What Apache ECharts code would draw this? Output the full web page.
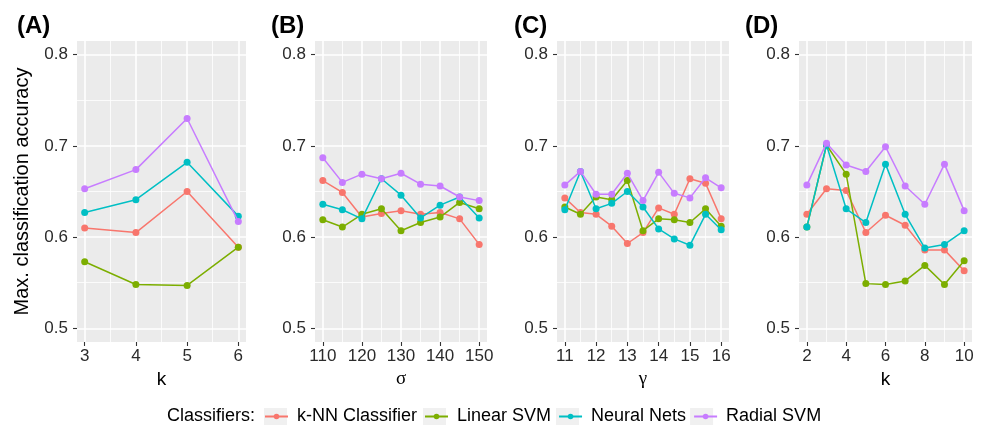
<!DOCTYPE html>
<html>
<head>
<meta charset="utf-8">
<script src="https://cdn.jsdelivr.net/npm/echarts@6/dist/echarts.min.js"></script>
<style>html,body{margin:0;padding:0;background:#fff}#c{width:981px;height:427px}</style>
</head>
<body>
<div id="c"></div>
<script>
// ---------- data ----------
const seriesNames = ['k-NN Classifier', 'Linear SVM', 'Neural Nets', 'Radial SVM'];
const panelTitles = ['(A)', '(B)', '(C)', '(D)'];
const xNames = ['k', 'σ', 'γ', 'k'];

const xA = [3, 4, 5, 6];
const knnA = [0.610, 0.605, 0.650, 0.589];
const linA = [0.573, 0.548, 0.547, 0.589];
const nnA  = [0.627, 0.641, 0.682, 0.623];
const rbfA = [0.653, 0.674, 0.730, 0.617];

const xB = [110, 115, 120, 125, 130, 135, 140, 145, 150];
const knnB = [0.662, 0.649, 0.622, 0.626, 0.629, 0.625, 0.627, 0.620, 0.592];
const linB = [0.619, 0.611, 0.625, 0.631, 0.607, 0.616, 0.622, 0.638, 0.631];
const nnB  = [0.636, 0.630, 0.620, 0.664, 0.646, 0.621, 0.635, 0.644, 0.621];
const rbfB = [0.687, 0.660, 0.669, 0.664, 0.670, 0.658, 0.656, 0.644, 0.640];

const xC = [11, 11.5, 12, 12.5, 13, 13.5, 14, 14.5, 15, 15.5, 16];
const knnC = [0.643, 0.627, 0.625, 0.612, 0.593, 0.605, 0.632, 0.625, 0.664, 0.659, 0.620];
const linC = [0.633, 0.625, 0.644, 0.641, 0.662, 0.607, 0.620, 0.619, 0.616, 0.631, 0.612];
const nnC  = [0.630, 0.672, 0.631, 0.637, 0.650, 0.633, 0.609, 0.598, 0.591, 0.625, 0.608];
const rbfC = [0.657, 0.672, 0.647, 0.647, 0.670, 0.640, 0.671, 0.648, 0.643, 0.665, 0.654];

const xD = [2, 3, 4, 5, 6, 7, 8, 9, 10];
const knnD = [0.625, 0.653, 0.651, 0.605, 0.624, 0.613, 0.586, 0.586, 0.563];
const linD = [0.611, 0.701, 0.669, 0.549, 0.548, 0.552, 0.569, 0.548, 0.574];
const nnD  = [0.611, 0.701, 0.631, 0.616, 0.680, 0.625, 0.588, 0.592, 0.607];
const rbfD = [0.657, 0.703, 0.679, 0.672, 0.699, 0.656, 0.636, 0.680, 0.629];

const yTicks = [0.5, 0.6, 0.7, 0.8];
const yMinor = [0.55, 0.65, 0.75];
const xTicksA = [3, 4, 5, 6],            xMinorA = [3.5, 4.5, 5.5];
const xTicksB = [110, 120, 130, 140, 150], xMinorB = [115, 125, 135, 145];
const xTicksC = [11, 12, 13, 14, 15, 16],  xMinorC = [11.5, 12.5, 13.5, 14.5, 15.5];
const xTicksD = [2, 4, 6, 8, 10],          xMinorD = [3, 5, 7, 9];

// ---------- layout / style ----------
const colors = ['#F8766D', '#7CAE00', '#00BFC4', '#C77CFF'];
const FONT = 'Liberation Sans, Arial, Helvetica, sans-serif';
const yRange = [0.485, 0.815];

const panels = [
  {x: xA, ys: [knnA, linA, nnA, rbfA], ticks: xTicksA, minor: xMinorA, range: [2.85, 6.15],
   grid: {left: 77, top: 41, width: 169, height: 301}, titleLeft: 12},
  {x: xB, ys: [knnB, linB, nnB, rbfB], ticks: xTicksB, minor: xMinorB, range: [108, 152],
   grid: {left: 315, top: 41, width: 172, height: 301}, titleLeft: 266},
  {x: xC, ys: [knnC, linC, nnC, rbfC], ticks: xTicksC, minor: xMinorC, range: [10.75, 16.25],
   grid: {left: 557, top: 41, width: 172, height: 301}, titleLeft: 509},
  {x: xD, ys: [knnD, linD, nnD, rbfD], ticks: xTicksD, minor: xMinorD, range: [1.6, 10.4],
   grid: {left: 799, top: 41, width: 173, height: 301}, titleLeft: 740}
];

const grid = [], xAxis = [], yAxis = [], series = [], title = [];

panels.forEach((p, i) => {
  grid.push(Object.assign({show: true, backgroundColor: '#EBEBEB', borderWidth: 0, containLabel: false}, p.grid));
  title.push({text: panelTitles[i], left: p.titleLeft, top: 9,
    textStyle: {fontFamily: FONT, fontWeight: 'bold', fontSize: 24, color: '#000'}});
  const isGreek = (xNames[i] === 'σ' || xNames[i] === 'γ');
  xAxis.push({
    type: 'value', gridIndex: i, min: p.range[0], max: p.range[1],
    name: xNames[i], nameLocation: 'middle', nameGap: 28,
    nameTextStyle: {fontFamily: isGreek ? 'Liberation Serif, DejaVu Serif, serif' : FONT,
      fontSize: 19, color: '#000'},
    axisLine: {show: false},
    axisTick: {show: true, length: 4, customValues: p.ticks, lineStyle: {color: '#333', width: 1.1}},
    axisLabel: {customValues: p.ticks, margin: 6, fontFamily: FONT, fontSize: 17, color: '#2b2b2b'},
    splitLine: {show: true, lineStyle: {color: '#fff', width: 1.6}}
  });
  xAxis.push({
    type: 'value', gridIndex: i, min: p.range[0], max: p.range[1],
    axisLine: {show: false},
    axisTick: {show: false, customValues: p.minor},
    axisLabel: {show: false, customValues: p.minor},
    splitLine: {show: true, lineStyle: {color: '#fff', width: 0.8}}
  });
  yAxis.push({
    type: 'value', gridIndex: i, min: yRange[0], max: yRange[1],
    name: i === 0 ? 'Max. classification accuracy' : '',
    nameLocation: 'middle', nameGap: 45,
    nameTextStyle: {fontFamily: FONT, fontSize: 20, color: '#000'},
    axisLine: {show: false},
    axisTick: {show: true, length: 4, customValues: yTicks, lineStyle: {color: '#333', width: 1.1}},
    axisLabel: {customValues: yTicks, margin: 9, fontFamily: FONT, fontSize: 17, color: '#2b2b2b',
      formatter: v => v.toFixed(1)},
    splitLine: {show: true, lineStyle: {color: '#fff', width: 1.6}}
  });
  yAxis.push({
    type: 'value', gridIndex: i, min: yRange[0], max: yRange[1],
    axisLine: {show: false},
    axisTick: {show: false, customValues: yMinor},
    axisLabel: {show: false, customValues: yMinor},
    splitLine: {show: true, lineStyle: {color: '#fff', width: 0.8}}
  });
  p.ys.forEach((vals, s) => {
    series.push({
      type: 'line', name: seriesNames[s], xAxisIndex: 2 * i, yAxisIndex: 2 * i,
      data: p.x.map((xv, k) => [xv, vals[k]]),
      symbol: 'circle', symbolSize: 7, showSymbol: true,
      lineStyle: {color: colors[s], width: 1.5},
      itemStyle: {color: colors[s]},
      emphasis: {disabled: true}, animation: false, z: 2 + s
    });
  });
});

// legend keys: light grey key boxes behind the legend symbols
const KEY_W = 23, KEY_H = 17, TEXT_GAP = 9, ITEM_GAP = 7, LEG_LEFT = 264, LEG_CY = 416.5;
const ctx = document.createElement('canvas').getContext('2d');
ctx.font = '18px Liberation Sans, Arial, sans-serif';
const keyRects = [];
let lx = LEG_LEFT;
seriesNames.forEach(n => {
  keyRects.push({type: 'rect', z: 0, shape: {x: lx, y: LEG_CY - KEY_H / 2, width: KEY_W, height: KEY_H},
    style: {fill: '#F0F0F0'}, silent: true});
  lx += KEY_W + TEXT_GAP + ctx.measureText(n).width + ITEM_GAP;
});

title.push({text: 'Classifiers:', left: 162, top: LEG_CY - 14,
  textStyle: {fontFamily: FONT, fontSize: 18, fontWeight: 'normal', color: '#000', lineHeight: 18}});

const option = {
  animation: false,
  color: colors,
  title: title,
  grid: grid, xAxis: xAxis, yAxis: yAxis, series: series,
  graphic: keyRects,
  legend: {
    data: seriesNames,
    left: LEG_LEFT, top: LEG_CY - 9, padding: 0, orient: 'horizontal', z: 10,
    itemWidth: KEY_W, itemHeight: 7, itemGap: ITEM_GAP,
    textStyle: {fontFamily: FONT, fontSize: 18, color: '#000', lineHeight: 18,
      padding: [0, 0, 0, TEXT_GAP - 5]},
    selectedMode: false
  }
};

const chart = echarts.init(document.getElementById('c'), null, {renderer: 'canvas'});
chart.setOption(option);
</script>
</body>
</html>
